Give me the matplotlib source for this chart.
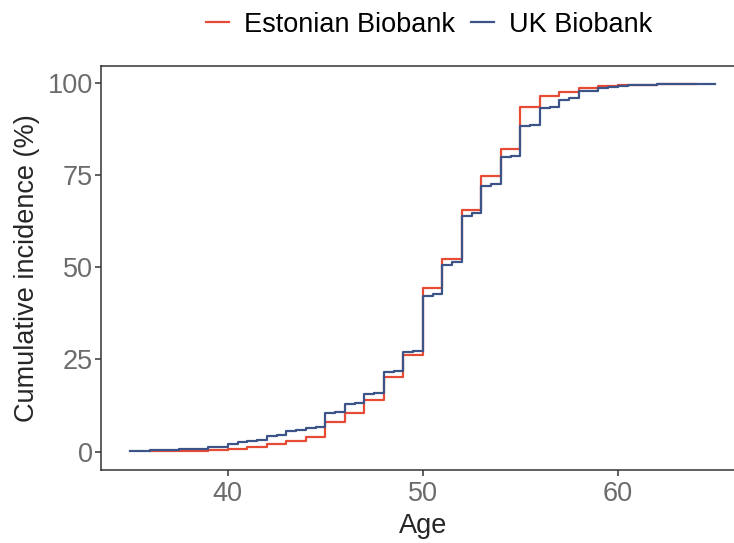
import matplotlib.pyplot as plt
import numpy as np

plt.rcParams['font.family'] = ['Liberation Sans', 'DejaVu Sans']

# cumulative incidence (%) by year of age
est_ages = list(range(36, 64))
est_vals = [0.1, 0.2, 0.3, 0.45, 0.8, 1.3, 2.1, 3.0, 3.9, 8.0, 10.5, 13.9, 20.2, 26.3,
            44.4, 52.2, 65.5, 74.8, 82.1, 93.6, 96.4, 97.6, 98.6, 99.1, 99.4, 99.5, 99.6, 99.6]
est_end = 64

uk_ages = list(range(35, 65))
uk_vals = [0.2, 0.35, 0.5, 0.7, 1.2, 2.2, 2.9, 4.3, 5.5, 6.4, 10.5, 12.8, 15.7, 21.6, 27.0,
           42.2, 50.7, 63.8, 72.0, 79.9, 88.2, 93.1, 95.5, 97.7, 98.6, 99.3, 99.5, 99.6, 99.6, 99.7]
# small increase half way through each year
uk_mid = [0.25, 0.4, 0.6, 0.8, 1.3, 2.6, 3.1, 4.6, 5.8, 6.7, 10.8, 13.2, 16.0, 21.9, 27.2,
          42.8, 51.4, 64.7, 72.6, 80.3, 88.5, 93.4, 95.8, 97.9, 98.8, 99.4, 99.5, 99.6, 99.7, 99.7]
uk_end = 65

red = '#E64B35'
blue = '#3C5488'

fig = plt.figure(figsize=(7.34, 5.43), dpi=100)
ax = fig.add_axes([0.1376, 0.1344, 0.877, 0.7441])

ex = est_ages + [est_end]
ey = est_vals + [est_vals[-1]]
ax.step(ex, ey, where='post', color=red, lw=1.6, label='Estonian Biobank')

ux, uy = [], []
for a, v, m in zip(uk_ages, uk_vals, uk_mid):
    ux += [a, a + 0.5]
    uy += [v, m]
ux.append(uk_end)
uy.append(uy[-1])
ax.step(ux, uy, where='post', color=blue, lw=1.6, label='UK Biobank')

ax.set_xlim(33.5, 66.5)
ax.set_ylim(-4.98, 104.6)
ax.set_xticks([40, 50, 60])
ax.set_yticks([0, 25, 50, 75, 100])
ax.set_xlabel('Age', fontsize=19.5, color='#262626', labelpad=4)
ax.set_ylabel('Cumulative incidence (%)', fontsize=19.5, color='#262626', labelpad=5)
ax.tick_params(labelsize=19.5, labelcolor='#6b6b6b', color='#333333', length=4, width=1.1,
               pad=2)
ax.tick_params(axis='x', pad=4)

ax.spines['right'].set_visible(False)
for s in ['left', 'bottom', 'top']:
    ax.spines[s].set_color('#333333')
    ax.spines[s].set_linewidth(1.1)

fig.legend(loc='center', bbox_to_anchor=(0.5845, 0.954), ncol=2, frameon=False,
           fontsize=19.5, handlelength=0.85, handletextpad=0.55, columnspacing=0.6)

fig.savefig('out.png', dpi=100)
